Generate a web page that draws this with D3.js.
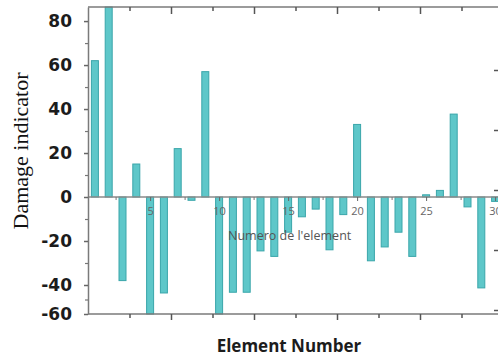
<!DOCTYPE html>
<html><head><meta charset="utf-8">
<script src="https://cdn.jsdelivr.net/npm/d3@7"></script>
<style>html,body{margin:0;padding:0;background:#fff;overflow:hidden}</style>
</head><body>
<svg id="c" width="498" height="358"></svg>
<script>
const elements = d3.range(1, 31);
const damage = [62, 88, -38, 15, -60, -45.5, 22, -1.5, 57, -60,
                -45, -45, -24.5, -27, -16, -9, -5.5, -24, -8, 33,
                -29, -22.7, -16, -27, 1, 3, 37.7, -4.5, -42, -2];
const yTicks = [-60, -40, -20, 0, 20, 40, 60, 80];
const yMinor = [-50, -30, -10, 10, 30, 50, 70];
const xTickLabels = [5, 10, 15, 20, 25, 30];
const xMinor = [2.5, 7.5, 12.5, 17.5, 22.5, 27.5];
const frameTicks = [1, 2, 3, 4, 5, 6, 7, 8, 9];
const rightTicks = [1, 2, 3, 4, 5];

const svg = d3.select("#c");
const L = 88, R = 498, T = 7, B = 314;
const x = d3.scaleLinear().domain([0.5, 30.21]).range([L, R]);
const y = d3.scaleLinear().domain([-60, -40, 0, 86.4]).range([B, 285, 197, T]);
const xf = d3.scaleLinear().domain([0, 10]).range([L, L + 415]);
const yr = d3.scaleLinear().domain([0, 5]).range([10, 310]);
const axisCol = "#7a7a7a";

// bars
svg.append("g").selectAll("rect").data(elements).join("rect")
  .attr("x", d => x(d) - 3.5)
  .attr("width", 7)
  .attr("y", (d, i) => Math.max(T, y(Math.max(0, damage[i]))))
  .attr("height", (d, i) => Math.abs(Math.max(T, y(Math.max(0, damage[i]))) - y(Math.min(0, damage[i]))))
  .attr("fill", "#5ec7c9")
  .attr("stroke", "#3aa6aa")
  .attr("stroke-width", 1);

// zero line
svg.append("line").attr("x1", L).attr("x2", R).attr("y1", y(0)).attr("y2", y(0))
  .attr("stroke", "#8a8a8a").attr("stroke-width", 1.5);

// zero-line ticks + labels
const zg = svg.append("g").attr("transform", `translate(0,${y(0)})`);
zg.call(d3.axisBottom(x).tickValues(xTickLabels).tickSize(4).tickPadding(6).tickFormat(d => String(d)))
  .call(g => g.select(".domain").remove())
  .call(g => g.selectAll("line").attr("stroke", "#666"))
  .call(g => g.selectAll("text").attr("fill", "#666")
      .style("font-family", "'Open Sans', sans-serif").style("font-size", "11px"));
zg.append("g").call(d3.axisBottom(x).tickValues(xMinor).tickSize(3).tickFormat(""))
  .call(g => g.select(".domain").remove())
  .call(g => g.selectAll("line").attr("stroke", "#777"));

// frame: top and bottom lines
svg.append("line").attr("x1", L).attr("x2", R).attr("y1", T).attr("y2", T)
  .attr("stroke", axisCol).attr("stroke-width", 1.5);
svg.append("line").attr("x1", L).attr("x2", R).attr("y1", B).attr("y2", B)
  .attr("stroke", axisCol).attr("stroke-width", 1.5);

// top ticks (inside)
svg.append("g").attr("transform", `translate(0,${T})`)
  .call(d3.axisBottom(xf).tickValues(frameTicks).tickSizeInner(0).tickSizeOuter(0).tickFormat(""))
  .call(g => g.select(".domain").remove())
  .call(g => g.selectAll(".tick line").attr("y2", d => d % 2 === 0 ? 7 : 4)
      .attr("stroke", "#555").attr("stroke-width", 1.5));
// bottom ticks (outside)
svg.append("g").attr("transform", `translate(0,${B})`)
  .call(d3.axisBottom(xf).tickValues(frameTicks).tickSizeInner(0).tickSizeOuter(0).tickFormat(""))
  .call(g => g.select(".domain").remove())
  .call(g => g.selectAll(".tick line").attr("y2", d => d % 2 === 0 ? 6 : 4)
      .attr("stroke", "#555").attr("stroke-width", 1.5));

// right-edge ticks
svg.append("g").attr("transform", `translate(${R},0)`)
  .call(d3.axisLeft(yr).tickValues(rightTicks).tickSize(4).tickFormat(""))
  .call(g => g.select(".domain").remove())
  .call(g => g.selectAll("line").attr("stroke", "#555").attr("stroke-width", 1.5));

// left axis
svg.append("g").attr("transform", `translate(${L},0)`)
  .call(d3.axisLeft(y).tickValues(yTicks).tickSize(4).tickPadding(12).tickSizeOuter(0).tickFormat(d => String(d)))
  .call(g => g.select(".domain").attr("stroke", axisCol).attr("stroke-width", 1.5))
  .call(g => g.selectAll("line").attr("stroke", "#666").attr("stroke-width", 1.5))
  .call(g => g.selectAll("text").attr("fill", "#1c1c1c")
      .style("font-family", "'DejaVu Sans', sans-serif").style("font-weight", "bold").style("font-size", "17px"));
svg.append("g").attr("transform", `translate(${L},0)`)
  .call(d3.axisLeft(y).tickValues(yMinor).tickSize(3).tickFormat(""))
  .call(g => g.select(".domain").remove())
  .call(g => g.selectAll("line").attr("stroke", "#777").attr("stroke-width", 1.2));

// y title
svg.append("text").attr("transform", "translate(28,151) rotate(-90)")
  .attr("text-anchor", "middle")
  .style("font-family", "'Liberation Serif', 'Times New Roman', serif").style("font-size", "22px")
  .attr("fill", "#111").text("Damage indicator");

// ghost inner label
svg.append("text").attr("x", 228).attr("y", 240)
  .style("font-family", "'Open Sans', sans-serif").style("font-size", "12.5px")
  .attr("fill", "#555").text("Numero de l'element");

// x title
svg.append("text").attr("x", 289).attr("y", 352).attr("text-anchor", "middle")
  .style("font-family", "'Open Sans', sans-serif").style("font-weight", "bold").style("font-size", "17px")
  .attr("fill", "#1c1c1c").text("Element Number");
</script>
</body></html>
